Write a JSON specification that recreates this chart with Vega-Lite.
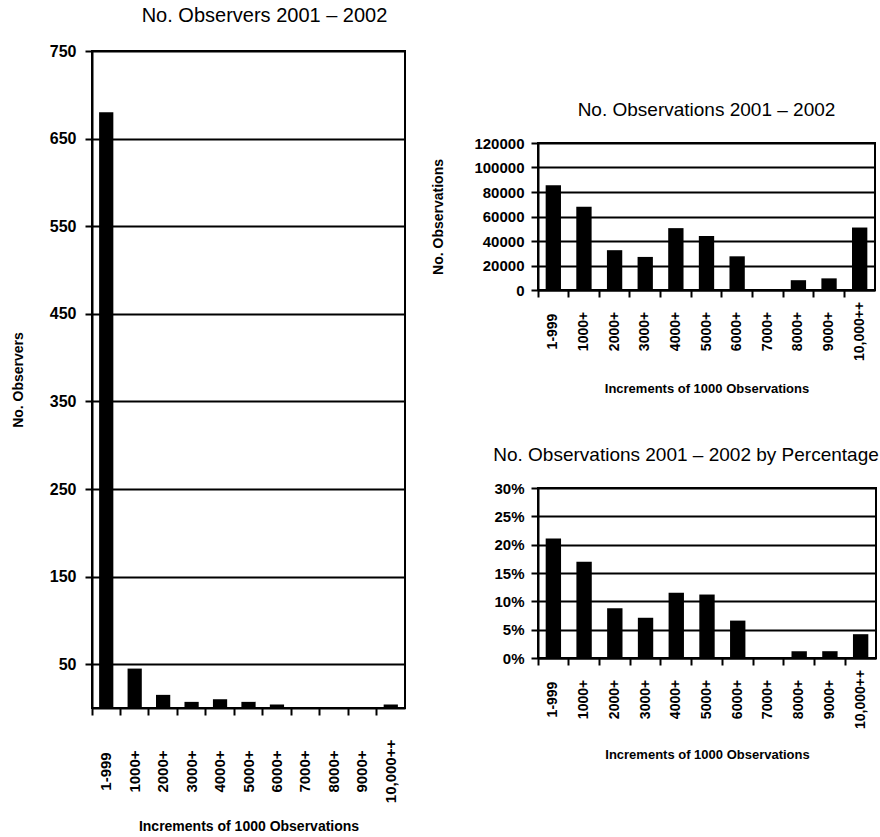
{
  "$schema": "https://vega.github.io/schema/vega-lite/v6.json",
  "padding": {"left": 10, "top": 5, "right": 2, "bottom": 2},
  "background": "white",
  "config": {
    "font": "Liberation Sans",
    "view": {"stroke": "black", "strokeWidth": 2},
    "axis": {
      "domainColor": "black", "domainWidth": 2,
      "tickColor": "black", "tickWidth": 2, "tickSize": 7,
      "gridColor": "black", "gridWidth": 2, "gridOpacity": 1,
      "labelColor": "black", "labelFont": "Liberation Sans", "labelFontWeight": "bold",
      "titleFont": "Liberation Sans", "titleFontWeight": "bold", "titleColor": "black",
      "labelOverlap": false, "labelFlush": false
    },
    "title": {"fontWeight": "normal", "color": "black", "font": "Liberation Sans"}
  },
  "datasets": {
    "d": [
      {"cat": "1-999", "observers": 680, "observations": 85500, "pct": 0.211},
      {"cat": "1000+", "observers": 45, "observations": 68000, "pct": 0.170},
      {"cat": "2000+", "observers": 15, "observations": 32500, "pct": 0.088},
      {"cat": "3000+", "observers": 7, "observations": 27000, "pct": 0.071},
      {"cat": "4000+", "observers": 10, "observations": 50500, "pct": 0.115},
      {"cat": "5000+", "observers": 7, "observations": 44000, "pct": 0.112},
      {"cat": "6000+", "observers": 4, "observations": 27500, "pct": 0.066},
      {"cat": "7000+", "observers": 0, "observations": 0, "pct": 0},
      {"cat": "8000+", "observers": 1, "observations": 8000, "pct": 0.012},
      {"cat": "9000+", "observers": 1, "observations": 9500, "pct": 0.012},
      {"cat": "10,000++", "observers": 4, "observations": 51000, "pct": 0.042}
    ]
  },
  "spacing": 24,
  "hconcat": [
    {
      "width": 313,
      "height": 657,
      "title": {"text": "No. Observers 2001 – 2002", "fontSize": 20, "offset": 17, "dx": 16},
      "data": {"name": "d"},
      "mark": {"type": "bar", "color": "black", "width": {"band": 0.5}},
      "encoding": {
        "x": {
          "field": "cat", "type": "nominal", "sort": null,
          "scale": {"paddingInner": 0, "paddingOuter": 0},
          "axis": {
            "title": "Increments of 1000 Observations", "titleFontSize": 14, "titlePadding": 17,
            "labelAngle": -90, "labelAlign": "center", "labelBaseline": "middle",
            "bandPosition": 0, "labelOffset": 0, "labelPadding": 56, "labelFontSize": 15
          }
        },
        "y": {
          "field": "observers", "type": "quantitative",
          "scale": {"domain": [0, 750], "nice": false},
          "axis": {
            "values": [50, 150, 250, 350, 450, 550, 650, 750],
            "title": "No. Observers", "titleFontSize": 14, "titlePadding": 24,
            "labelFontSize": 16, "labelPadding": 9
          }
        }
      }
    },
    {
      "spacing": 0,
      "vconcat": [
        {
          "width": 1,
          "height": 49,
          "view": {"stroke": null},
          "data": {"values": []},
          "mark": "point",
          "encoding": {}
        },
        {
          "bounds": "flush",
          "spacing": 198,
          "vconcat": [
            {
              "width": 337,
              "height": 147,
              "title": {"text": "No. Observations 2001 – 2002", "fontSize": 19, "offset": 16},
              "data": {"name": "d"},
              "mark": {"type": "bar", "color": "black", "width": {"band": 0.5}},
              "encoding": {
                "x": {
                  "field": "cat", "type": "nominal", "sort": null,
                  "scale": {"paddingInner": 0, "paddingOuter": 0},
                  "axis": {
                    "title": "Increments of 1000 Observations", "titleFontSize": 13, "titlePadding": 22,
                    "labelAngle": -90, "labelAlign": "center", "labelBaseline": "middle",
                    "bandPosition": 0, "labelOffset": 0, "labelPadding": 34, "labelFontSize": 14
                  }
                },
                "y": {
                  "field": "observations", "type": "quantitative",
                  "scale": {"domain": [0, 120000], "nice": false},
                  "axis": {
                    "values": [0, 20000, 40000, 60000, 80000, 100000, 120000],
                    "format": "d",
                    "title": "No. Observations", "titleFontSize": 14, "titlePadding": 28,
                    "labelFontSize": 15, "labelPadding": 7
                  }
                }
              }
            },
            {
              "width": 338,
              "height": 170,
              "title": {"text": "No. Observations 2001 – 2002 by Percentage", "fontSize": 19, "offset": 16, "dx": -21},
              "data": {"name": "d"},
              "mark": {"type": "bar", "color": "black", "width": {"band": 0.5}},
              "encoding": {
                "x": {
                  "field": "cat", "type": "nominal", "sort": null,
                  "scale": {"paddingInner": 0, "paddingOuter": 0},
                  "axis": {
                    "title": "Increments of 1000 Observations", "titleFontSize": 13, "titlePadding": 20,
                    "labelAngle": -90, "labelAlign": "center", "labelBaseline": "middle",
                    "bandPosition": 0, "labelOffset": 0, "labelPadding": 34, "labelFontSize": 14
                  }
                },
                "y": {
                  "field": "pct", "type": "quantitative",
                  "scale": {"domain": [0, 0.3], "nice": false},
                  "axis": {
                    "values": [0, 0.05, 0.1, 0.15, 0.2, 0.25, 0.3],
                    "format": ".0%",
                    "title": null,
                    "labelFontSize": 15, "labelPadding": 7
                  }
                }
              }
            }
          ]
        }
      ]
    }
  ]
}
